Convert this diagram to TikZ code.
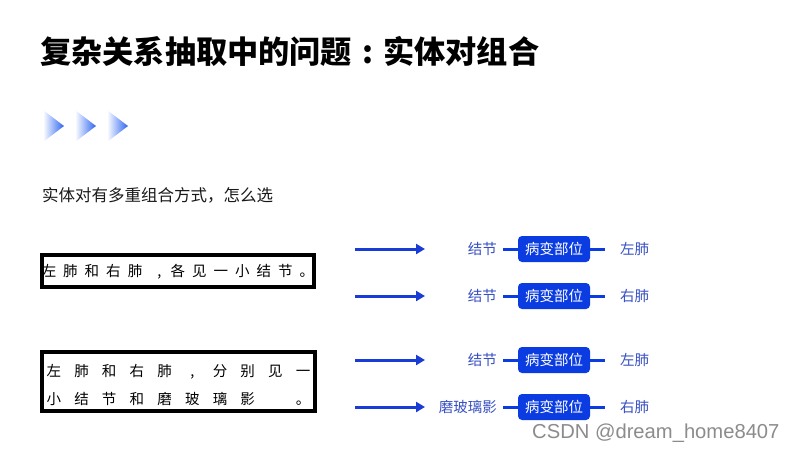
\documentclass[tikz,border=0pt]{standalone}
\usepackage{fontspec}
\setmainfont{Liberation Sans}
\newfontfamily\cjk{Noto Sans CJK SC}
\usetikzlibrary{arrows.meta}
\definecolor{arrblue}{RGB}{25,60,215}
\definecolor{boxblue}{RGB}{10,60,225}
\definecolor{lblblue}{RGB}{55,80,195}
\definecolor{chevblue}{RGB}{45,100,240}
\definecolor{wmgray}{RGB}{140,140,140}
\definecolor{subgray}{RGB}{25,25,25}
\newcommand\cA[1]{\makebox[21.5pt][c]{#1}}
\newcommand\cB[1]{\makebox[27.7pt][c]{#1}}
\tikzset{
  titletext/.style={font=\cjk\bfseries\fontsize{31.2}{34}\selectfont, inner sep=0pt, anchor=base west},
  subtext/.style={font=\cjk\fontsize{16.5}{18}\selectfont, text=subgray, inner sep=0pt, anchor=base west},
  boxtext/.style={font=\cjk\fontsize{14.5}{16}\selectfont, inner sep=0pt, anchor=base},
  framebox/.style={draw=black, line width=4pt, inner sep=0pt},
  arr/.style={draw=arrblue, line width=3pt, -{Triangle[length=9pt,width=10pt]}},
  tag/.style={fill=boxblue, rounded corners=4pt, text=white, font=\cjk\fontsize{14.5}{16}\selectfont,
              minimum width=72pt, minimum height=26pt, inner xsep=0pt, inner ysep=0pt,
              text height=12.5pt, text depth=1.5pt},
  lbl/.style={text=lblblue, font=\cjk\fontsize{14.5}{16}\selectfont, inner xsep=0pt, inner ysep=0pt,
              text height=12.5pt, text depth=1.5pt},
  stub/.style={draw=boxblue, line width=3pt},
  wm/.style={font=\fontsize{20.2}{22}\selectfont, text=wmgray, inner sep=0pt, anchor=base west}
}
\begin{document}
\begin{tikzpicture}[x=1pt,y=-1pt]
\useasboundingbox[fill=white] (0,0) rectangle (795,451);

% title
\node[titletext] (title) at (40,63) {复杂关系抽取中的问题\makebox[1em][c]{:}实体对组合};

% chevrons
\foreach \x in {43,75,107}{
  \shade[left color=white, right color=chevblue] (\x,110) -- (\x+21,126) -- (\x,142) -- cycle;
}

% subtitle
\node[subtext] (sub) at (42,201.8) {实体对有多重组合方式，怎么选};

% box 1
\node[framebox, minimum width=272pt, minimum height=32pt] (b1) at (178,271) {};
\node[boxtext] (t1) at (178,276.5) {\cA{左}\cA{肺}\cA{和}\cA{右}\cA{肺}\cA{\hspace{6pt},}\cA{各}\cA{见}\cA{一}\cA{小}\cA{结}\cA{节}\cA{。}};

% box 2
\node[framebox, minimum width=273pt, minimum height=59pt] (b2) at (178.5,381.5) {};
\node[boxtext] (t2a) at (178.5,376.5) {\cB{左}\cB{肺}\cB{和}\cB{右}\cB{肺}\cB{,}\cB{分}\cB{别}\cB{见}\cB{一}};
\node[boxtext] (t2b) at (178.5,404.5) {\cB{小}\cB{结}\cB{节}\cB{和}\cB{磨}\cB{玻}\cB{璃}\cB{影}\cB{}\cB{。}};

% rows
\foreach \i/\y/\l/\r in {1/249/结节/左肺, 2/296/结节/右肺, 3/360/结节/左肺, 4/407/磨玻璃影/右肺}{
  \coordinate (as\i) at (355,\y);
  \coordinate (ae\i) at (425,\y);
  \draw[arr] (as\i) -- (ae\i);
  \node[tag] (bx\i) at (554,\y) {病变部位};
  \node[lbl, anchor=east] (ll\i) at (497,\y) {\l};
  \node[lbl, anchor=west] (rl\i) at (620,\y) {\r};
  \draw[stub, shorten <=6pt] (ll\i.east) -- (bx\i.west);
  \draw[stub, shorten >=15pt] (bx\i.east) -- (rl\i.west);
}

% watermark
\node[wm] (mark) at (532,438) {CSDN @dream\_home8407};
\end{tikzpicture}
\end{document}
